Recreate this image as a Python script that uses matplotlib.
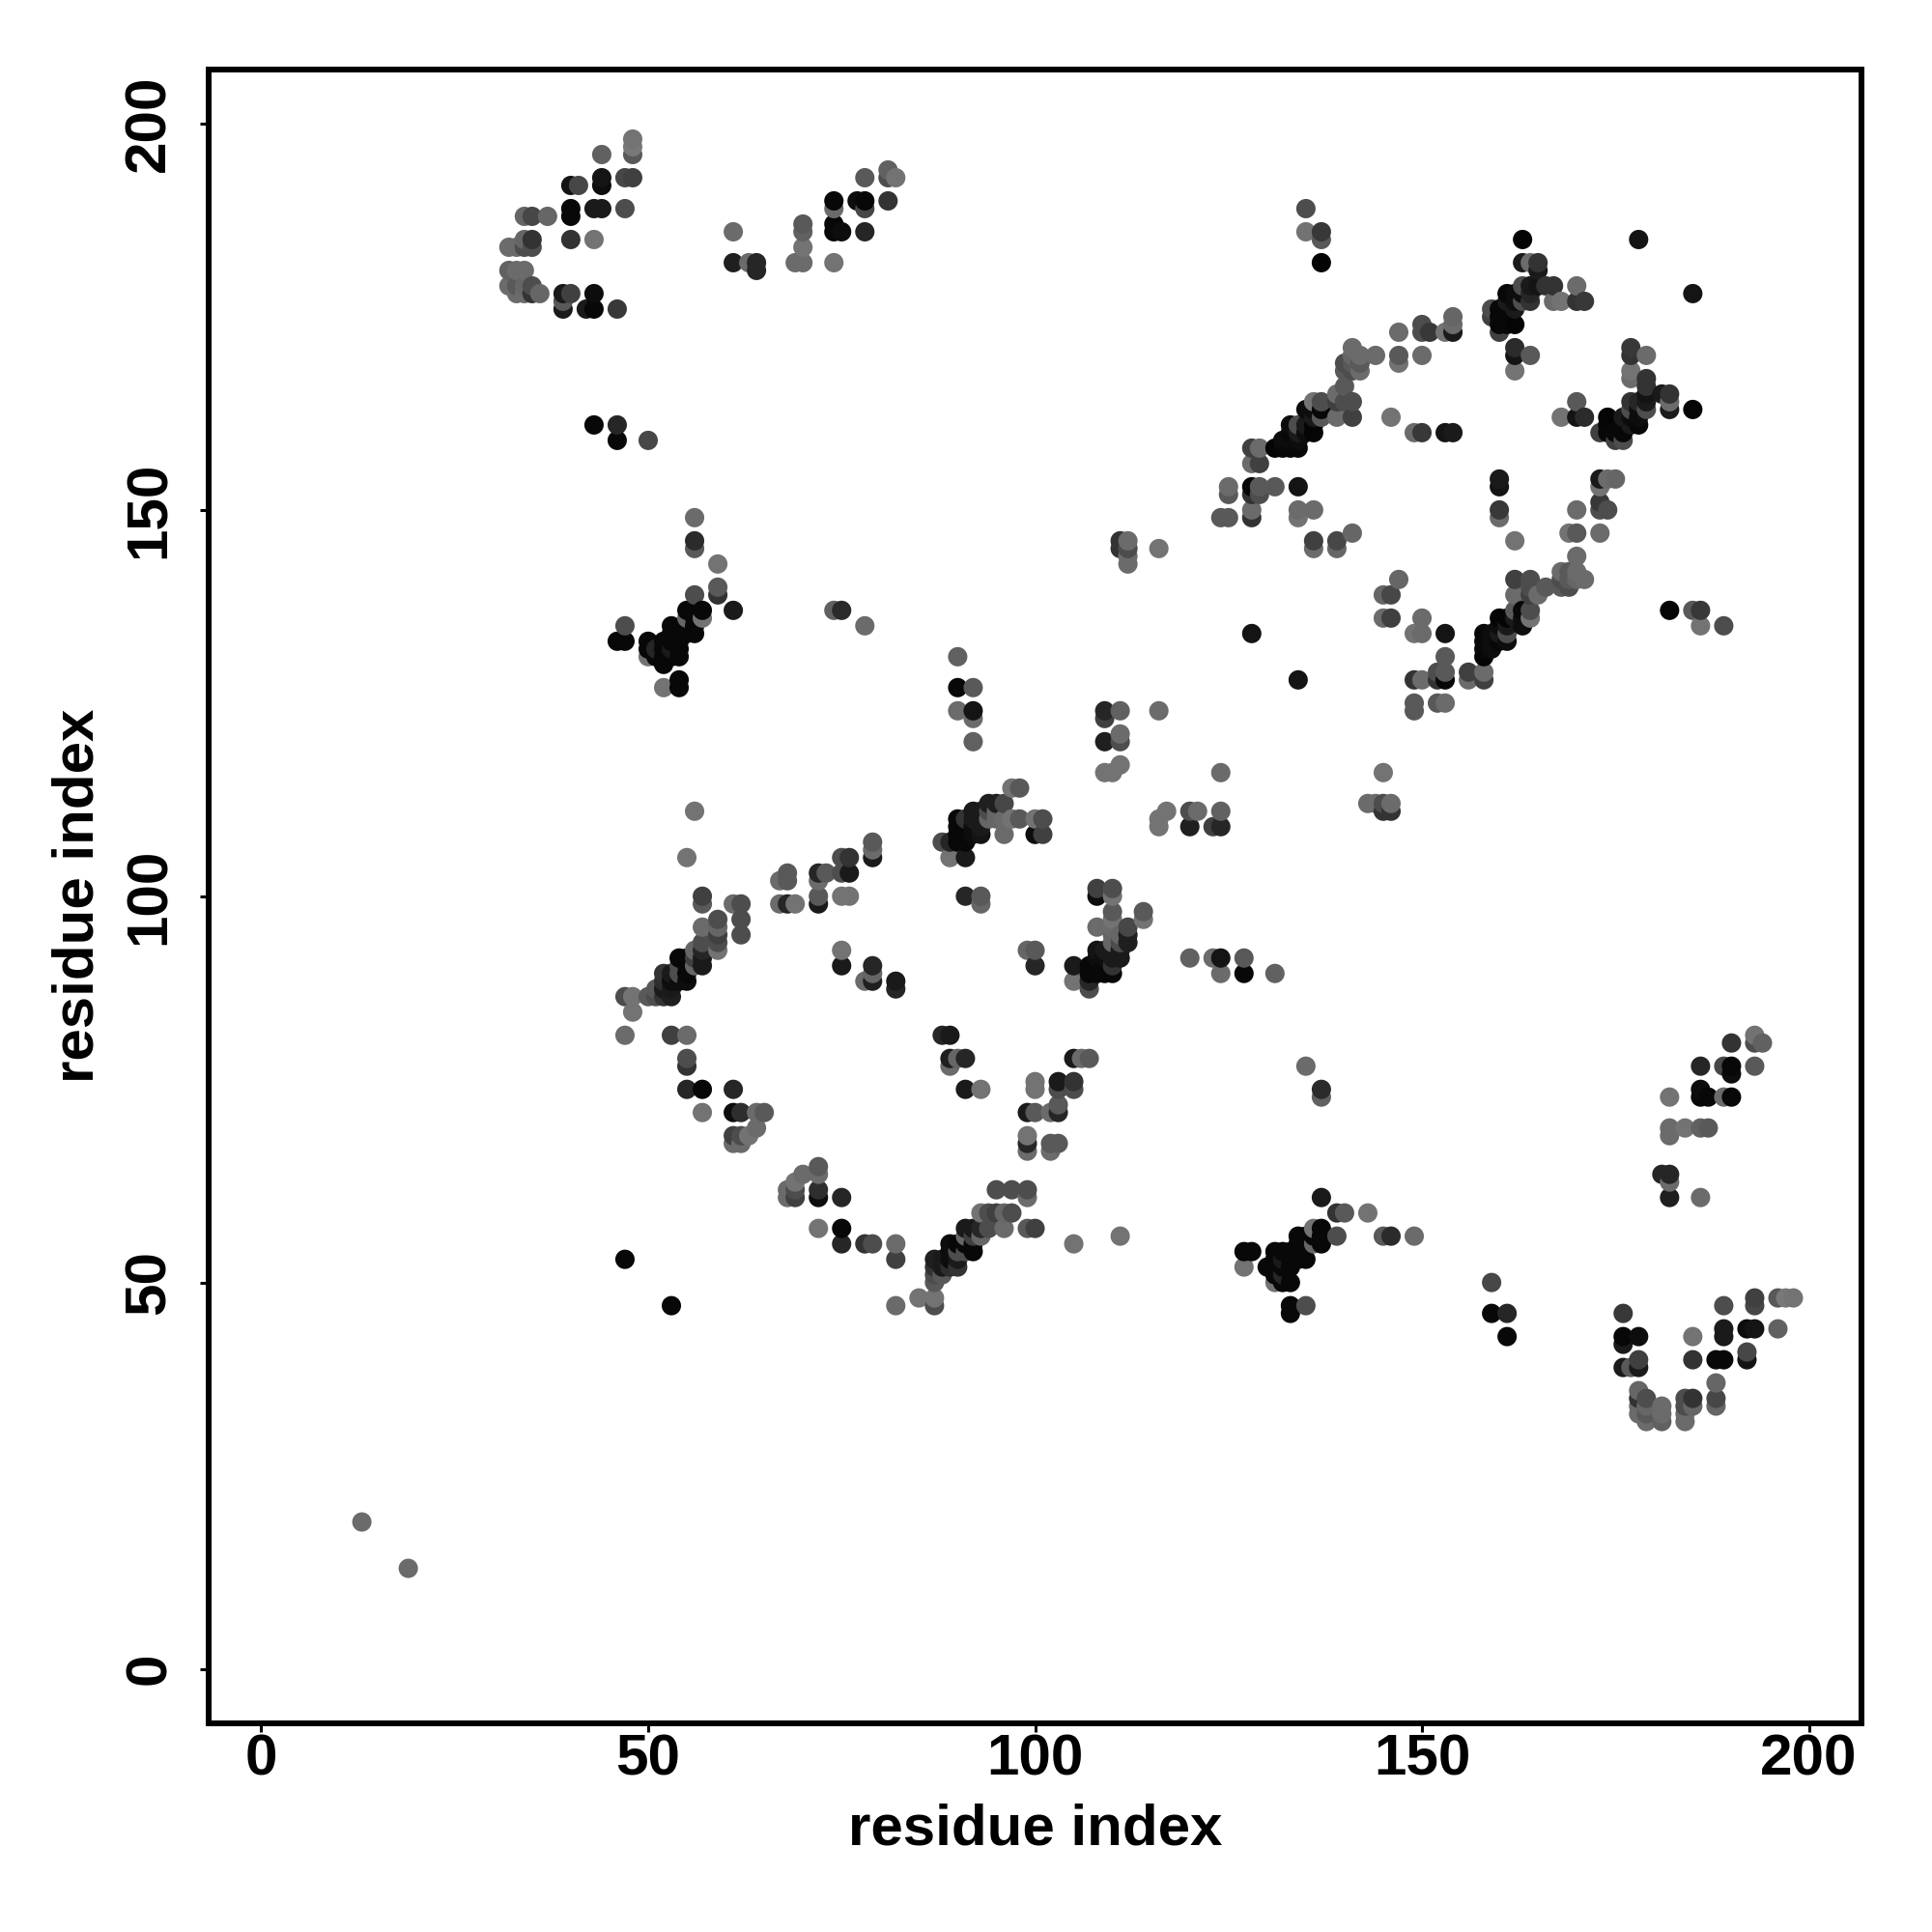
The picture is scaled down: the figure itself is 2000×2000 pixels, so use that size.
import matplotlib
matplotlib.use("Agg")
import matplotlib.pyplot as plt

plt.rcParams['font.family'] = ['Liberation Sans', 'DejaVu Sans']

# Contacts as (residue i, residue j, grey level); the map is symmetric, i < j listed
isolated = [(13,19,.42),(47,53,.03),(128,134,.08)]
top_left = [
 (48,198,.45),(48,197,.47),(48,196,.35),(44,196,.38),(47,193,.28),(48,193,.25),(44,193,.08),(44,192,.05),
 (40,192,.08),(41,192,.28),(40,189,.03),(40,188,.03),(43,189,.1),(44,189,.1),(47,189,.3),(34,188,.4),
 (35,188,.28),(37,188,.4),(40,185,.2),(43,185,.45),(35,185,.2),(34,185,.4),(32,184,.42),(33,184,.42),
 (34,184,.3),(35,184,.3),(32,181,.38),(33,181,.42),(34,181,.42),(32,179,.42),(33,179,.35),(34,179,.4),
 (35,179,.3),(33,178,.42),(34,178,.42),(35,178,.2),(36,178,.4),(39,178,.1),(40,178,.25),(43,178,.05),
 (39,177,.35),(39,176,.1),(42,176,.1),(43,176,.03),(46,176,.22),(43,161,.03),(46,161,.15),(46,159,.03),
 (50,159,.28),
]
top_mid = [
 (82,193,.45),(81,194,.38),(81,193,.3),(78,193,.35),(74,190,.03),(74,189,.42),(77,190,.05),(78,190,.03),
 (78,189,.28),(81,190,.2),(74,187,.03),(74,186,.03),(75,186,.05),(78,186,.15),(70,187,.35),(70,186,.38),
 (70,184,.45),(69,182,.42),(70,182,.42),(74,182,.45),(61,186,.42),(61,182,.12),(63,182,.42),(64,182,.15),
 (64,181,.15),
]
upper_ring = [
 (135,189,.3),(135,186,.45),(137,186,.22),(137,185,.35),(137,182,.02),(154,175,.4),(154,174,.42),(154,173,.1),
 (153,173,.45),(151,173,.22),(150,173,.3),(150,174,.3),(147,173,.42),(147,170,.35),(150,170,.42),(147,169,.45),
 (144,170,.42),(141,171,.42),(142,170,.42),(141,170,.4),(140,169,.3),(141,169,.35),(142,169,.35),(140,168,.35),
 (141,168,.3),(142,168,.42),(140,166,.35),(139,165,.42),(140,164,.3),(141,164,.3),(139,164,.25),(139,162,.42),
 (141,162,.25),(146,162,.45),(149,160,.42),(150,160,.22),(153,160,.08),(154,160,.1),(136,164,.45),(137,164,.3),
 (135,163,.05),(137,163,.03),(136,163,.05),(137,162,.35),(136,162,.1),(136,161,.02),(135,161,.1),(136,160,.02),
 (135,160,.05),(134,160,.1),(133,160,.03),(133,161,.05),(134,161,.3),(133,159,.05),(134,159,.05),(132,159,.05),
 (131,158,.02),(132,158,.03),(133,158,.03),(134,158,.03),(128,158,.25),(129,158,.42),(128,156,.42),(129,156,.25),
 (125,153,.42),(125,152,.35),(128,153,.03),(129,153,.35),(131,153,.35),(134,153,.08),(128,152,.2),(129,152,.3),
 (128,150,.42),(134,150,.42),(136,150,.42),(124,149,.35),(125,149,.35),(128,149,.2),(134,149,.45),(141,147,.4),
 (136,146,.25),(139,146,.28),(136,145,.42),(139,145,.4),
]
upper_corner = [
 (163,185,.02),(178,185,.08),(163,182,.1),(164,182,.42),(165,182,.2),(165,181,.1),(163,179,.3),(164,179,.1),
 (165,179,.08),(166,179,.2),(167,179,.2),(170,179,.42),(164,178,.15),(163,178,.05),(162,178,.05),(161,178,.03),
 (164,177,.2),(163,177,.3),(162,177,.05),(161,177,.1),(168,177,.45),(167,177,.42),(170,177,.2),(171,177,.22),
 (160,176,.03),(161,176,.03),(162,176,.1),(159,176,.3),(159,175,.25),(160,175,.03),(160,174,.03),(161,174,.03),
 (162,174,.02),(160,173,.25),(162,171,.17),(162,170,.08),(164,170,.35),(162,168,.45),
]
mid_far = [
 (116,145,.45),(112,143,.42),(112,144,.42),(112,145,.3),(112,146,.42),(111,145,.2),(111,146,.2),
 (90,131,.38),(90,127,.03),(92,127,.35),(90,124,.42),(92,124,.08),(92,123,.42),(92,120,.38),
 (109,124,.15),(111,124,.38),(109,123,.25),(116,124,.42),(109,120,.12),(111,121,.42),(111,120,.3),
 (109,116,.45),(110,116,.45),(111,117,.45),
]
mid_cluster = [
 (97,114,.45),(98,114,.35),(94,112,.12),(95,112,.12),(96,112,.28),(92,111,.1),(93,111,.1),(94,111,.3),(95,111,.4),
 (90,110,.03),(91,110,.2),(92,110,.1),(93,110,.1),(94,110,.4),(95,110,.4),(96,110,.42),(97,110,.45),(98,110,.35),
 (100,110,.45),(101,110,.3),(90,109,.03),(91,109,.03),(92,109,.05),(93,109,.1),(90,108,.03),(91,108,.03),
 (92,108,.05),(93,108,.08),(96,108,.42),(100,108,.05),(101,108,.25),(88,107,.3),(89,107,.15),(90,107,.03),
 (91,107,.03),(89,105,.45),(91,105,.1),
]
left_cluster = [
 (61,137,.1),(59,139,.2),(59,140,.35),(59,143,.45),(57,137,.03),(57,136,.45),(56,139,.3),(56,137,.03),(55,137,.03),
 (56,145,.35),(56,146,.17),(56,149,.42),(56,136,.03),(56,135,.03),(56,134,.03),(55,136,.4),(55,135,.03),(55,134,.03),
 (54,134,.03),(54,133,.03),(53,135,.03),(53,134,.03),(53,133,.03),(54,132,.03),(54,131,.03),(53,132,.1),(53,131,.03),
 (52,133,.03),(52,132,.03),(52,131,.03),(52,130,.03),(51,132,.15),(51,131,.03),(50,133,.03),(50,132,.03),(50,131,.45),
 (47,135,.3),(46,133,.03),(47,133,.03),(52,127,.45),(54,128,.03),(54,127,.03),(74,137,.38),(75,137,.17),(78,135,.42),
]
lower_diag = [
 (48,85,.45),(48,87,.45),(47,87,.3),(50,87,.35),(51,87,.3),(52,87,.2),(53,87,.12),(53,88,.1),(52,88,.1),(51,88,.35),
 (55,89,.05),(54,89,.05),(53,89,.05),(52,89,.18),(55,90,.03),(53,90,.1),(52,90,.2),(54,90,.3),(57,91,.1),(56,91,.4),
 (55,91,.03),(54,91,.3),(57,92,.1),(56,92,.25),(55,92,.03),(54,92,.03),(57,93,.15),(56,93,.4),(57,94,.3),(59,93,.45),
 (59,94,.3),(59,95,.25),(59,96,.4),(59,97,.3),(62,95,.3),(62,97,.3),(62,99,.3),(61,99,.42),(57,96,.42),(57,99,.35),
 (57,100,.25),(55,105,.45),(56,111,.45),
]
lower_arc = [
 (67,102,.42),(68,103,.35),(68,102,.35),(67,99,.42),(68,99,.15),(69,99,.45),(72,103,.15),(73,103,.35),(72,102,.42),
 (72,100,.35),(72,99,.1),(75,105,.3),(76,105,.2),(75,103,.3),(76,103,.1),(75,100,.45),(76,100,.45),(79,107,.35),
 (79,106,.42),(79,105,.1),(75,93,.45),(75,91,.1),(79,91,.15),(79,90,.4),(78,89,.42),(79,89,.12),(82,89,.1),(82,88,.15),
 (91,100,.15),(93,100,.35),(93,99,.4),
]
lower_left = [
 (55,82,.42),(53,82,.25),(47,82,.42),(55,79,.3),(55,78,.2),(55,75,.15),(57,75,.03),(61,75,.15),(57,72,.45),(61,72,.05),
 (62,72,.18),(64,72,.42),(65,72,.35),(64,70,.42),(63,69,.45),(61,69,.25),(62,69,.3),(61,68,.42),(62,68,.42),
]

clusters = [isolated, top_left, top_mid, upper_ring, upper_corner, mid_far,
            mid_cluster, left_cluster, lower_diag, lower_arc, lower_left]

contacts = {}
for cluster in clusters:
    for i, j, g in cluster:
        contacts[(i, j)] = g
        contacts[(j, i)] = g
ordered = sorted(contacts)
xs = [p[0] for p in ordered]
ys = [p[1] for p in ordered]
greys = [str(contacts[p]) for p in ordered]

fig = plt.figure(figsize=(10, 10), dpi=200)
ax = fig.add_axes([216/2000, 1-1783.5/2000, (1927-216)/2000, (1783.5-72)/2000])
ax.scatter(xs, ys, s=52, c=greys, linewidths=0, zorder=3)
ax.set_xlim(-6.8, 206.8)
ax.set_ylim(-7.0, 207.0)
ticks = [0, 50, 100, 150, 200]
ax.set_xticks(ticks)
ax.set_yticks(ticks)
for s in ax.spines.values():
    s.set_linewidth(2.16)
ax.tick_params(axis='both', length=3.2, width=1.1, direction='out', labelsize=21.7)
ax.tick_params(axis='x', pad=0.8)
ax.tick_params(axis='y', pad=8.8)
for t in ax.get_xticklabels():
    t.set_fontweight('bold')
for t in ax.get_yticklabels():
    t.set_fontweight('bold')
    t.set_rotation(90)
    t.set_va('center')
ax.set_xlabel('residue index', fontsize=21.6, fontweight='bold')
ax.set_ylabel('residue index', fontsize=21.6, fontweight='bold')
ax.xaxis.set_label_coords(0.5, -(1894-1783.5)/1711.5, transform=ax.transAxes)
ax.xaxis.label.set_va('center')
ax.yaxis.set_label_coords(-(216-81)/1711, 0.5, transform=ax.transAxes)
ax.yaxis.label.set_va('center')
fig.savefig('out.png', dpi=200, facecolor='white')
